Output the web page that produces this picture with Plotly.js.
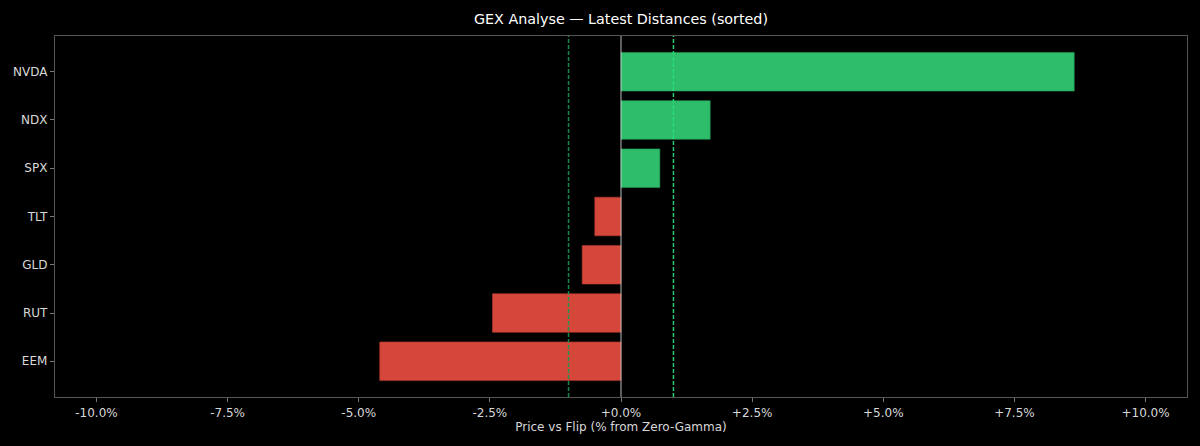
<!DOCTYPE html>
<html>
<head>
<meta charset="utf-8">
<script src="https://cdn.plot.ly/plotly-3.0.1.min.js"></script>
<style>html,body{margin:0;padding:0;background:#000;}#chart{width:1200px;height:446px;}</style>
</head>
<body>
<div id="chart"></div>
<script>
// Data (sorted, bottom to top as drawn)
const tickers = ["EEM", "RUT", "GLD", "TLT", "SPX", "NDX", "NVDA"];
const distancesPct = [-4.60, -2.45, -0.74, -0.50, 0.74, 1.70, 8.64];
const flipBands = [-1, 1];
const xTickVals = [-10, -7.5, -5, -2.5, 0, 2.5, 5, 7.5, 10];
const xTickText = ["-10.0%", "-7.5%", "-5.0%", "-2.5%", "+0.0%", "+2.5%", "+5.0%", "+7.5%", "+10.0%"];

const posColor = "#2dbd6b";
const negColor = "#d5473a";
const barColors = distancesPct.map(v => v >= 0 ? posColor : negColor);

const xLim = 10.79;

const trace = {
  type: "bar",
  orientation: "h",
  y: tickers,
  x: distancesPct,
  marker: {color: barColors, line: {width: 0.6, color: barColors.map(c => c === posColor ? "#239a55" : "#b23a2f")}},
  hoverinfo: "x+y"
};

const bandColors = ["rgba(25,150,80,0.9)", "rgba(40,225,130,0.9)"];
const shapes = flipBands.map((v, i) => ({
  type: "line", xref: "x", yref: "paper", x0: v, x1: v, y0: 0, y1: 1,
  line: {color: bandColors[i], width: 1.5, dash: "4px,2px"}, layer: "above"
}));
shapes.push({
  type: "line", xref: "x", yref: "paper", x0: 0, x1: 0, y0: 0, y1: 1,
  line: {color: "rgba(220,220,220,0.85)", width: 1}, layer: "above"
});

const layout = {
  width: 1200, height: 446,
  paper_bgcolor: "#000", plot_bgcolor: "#000",
  margin: {l: 55, r: 13, t: 36, b: 49},
  font: {family: "DejaVu Sans", color: "#d8d8d8", size: 12},
  title: {text: "GEX Analyse \u2014 Latest Distances (sorted)", font: {family: "DejaVu Sans", size: 14.3, color: "#ffffff"}, x: 0.5175, xanchor: "center", y: 0.957, yanchor: "middle"},
  bargap: 0.2,
  showlegend: false,
  xaxis: {
    range: [-xLim, xLim],
    tickvals: xTickVals, ticktext: xTickText,
    ticks: "outside", ticklen: 4, tickcolor: "#777", tickwidth: 1,
    showgrid: false, zeroline: false,
    showline: true, linecolor: "#555", linewidth: 1.2, mirror: true,
    tickfont: {size: 12, color: "#d8d8d8"},
    title: {text: "Price vs Flip (% from Zero-Gamma)", font: {size: 12, color: "#d8d8d8"}, standoff: 3}
  },
  yaxis: {
    range: [-0.74, 6.74],
    ticks: "outside", ticklen: 4, tickcolor: "#777", tickwidth: 1,
    showgrid: false, zeroline: false,
    showline: true, linecolor: "#555", linewidth: 1.2, mirror: true,
    tickfont: {size: 12, color: "#d8d8d8"}
  },
  shapes: shapes
};

Plotly.newPlot("chart", [trace], layout, {displayModeBar: false, staticPlot: true});
</script>
</body>
</html>
